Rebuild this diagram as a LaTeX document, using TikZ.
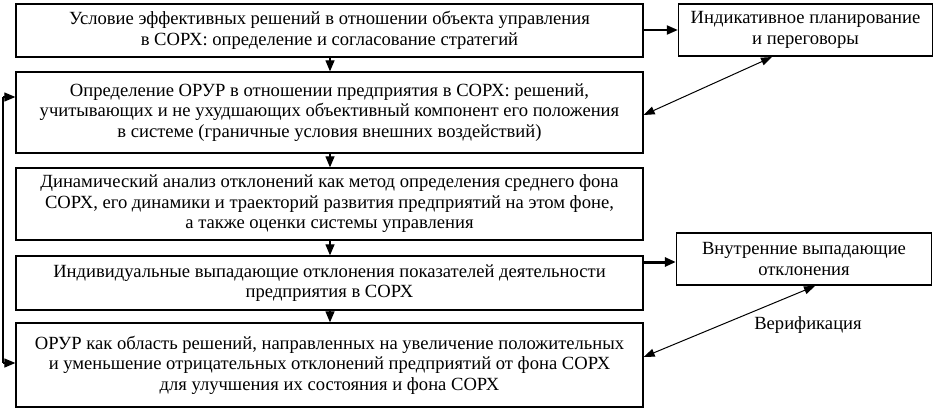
\documentclass[tikz,border=0pt]{standalone}
\usepackage{fontspec}
\setmainfont{Liberation Serif}
\usetikzlibrary{arrows.meta}
\begin{document}
\begin{tikzpicture}[x=1pt,y=-1pt,
  box/.style={draw,line width=1.3pt,rectangle,inner sep=0pt,align=center,
    font=\fontsize{18.6}{20.5}\selectfont},
  tri/.style={-{Triangle[length=11pt,width=9pt]},line width=1.2pt},
  dbl/.style={{Triangle[length=11pt,width=8pt]}-{Triangle[length=11pt,width=8pt]},line width=1pt}]
\useasboundingbox (0,0) rectangle (933,409);
\node[box,minimum width=627pt,minimum height=53pt] (b1) at (329.5,30.5)
  {Условие эффективных решений в отношении объекта управления\\в СОРХ: определение и согласование стратегий};
\node[box,minimum width=627pt,minimum height=81pt] (b2) at (329.5,112.5)
  {Определение ОРУР в отношении предприятия в СОРХ: решений,\\учитывающих и не ухудшающих объективный компонент его положения\\в системе (граничные условия внешних воздействий)};
\node[box,minimum width=627pt,minimum height=72pt] (b3) at (329.5,204)
  {Динамический анализ отклонений как метод определения среднего фона\\СОРХ, его динамики и траекторий развития предприятий на этом фоне,\\а также оценки системы управления};
\node[box,minimum width=627pt,minimum height=54pt] (b4) at (329.5,283)
  {Индивидуальные выпадающие отклонения показателей деятельности\\предприятия в СОРХ};
\node[box,minimum width=627pt,minimum height=84pt] (b5) at (329.5,365)
  {ОРУР как область решений, направленных на увеличение положительных\\и уменьшение отрицательных отклонений предприятий от фона СОРХ\\для улучшения их состояния и фона СОРХ};
\node[box,minimum width=254pt,minimum height=52pt] (r1) at (805.5,30)
  {Индикативное планирование\\и переговоры};
\node[box,minimum width=255pt,minimum height=52pt] (r2) at (804,259)
  {Внутренние выпадающие\\отклонения};
\node[font=\fontsize{18.6}{20.5}\selectfont] (ver) at (808,325) {Верификация};
\foreach \a/\b in {b1/b2,b2/b3,b3/b4,b4/b5}
  \draw[tri] (\a.south -| 330,0) -- (\b.north -| 330,0);
\draw[-{Triangle[length=11pt,width=9pt]},line width=2pt] (b1.east |- 0,30) -- (r1.west |- 0,30);
\draw[-{Triangle[length=11pt,width=9pt]},line width=3pt] (b4.east |- 0,262) -- (r2.west |- 0,262);
\coordinate (t1) at (772,57);
\coordinate (t2) at (815,286);
\draw[dbl] (t1) -- (b2.east |- 0,115);
\draw[dbl] (t2) -- (b5.east |- 0,357);
\coordinate (ltop) at (3,97);
\coordinate (lbot) at (3,363);
\draw[line width=1.5pt] (ltop) -- (lbot);
\draw[tri] (ltop) -- (b2.west |- ltop);
\draw[tri] (lbot) -- (b5.west |- lbot);
\end{tikzpicture}
\end{document}
